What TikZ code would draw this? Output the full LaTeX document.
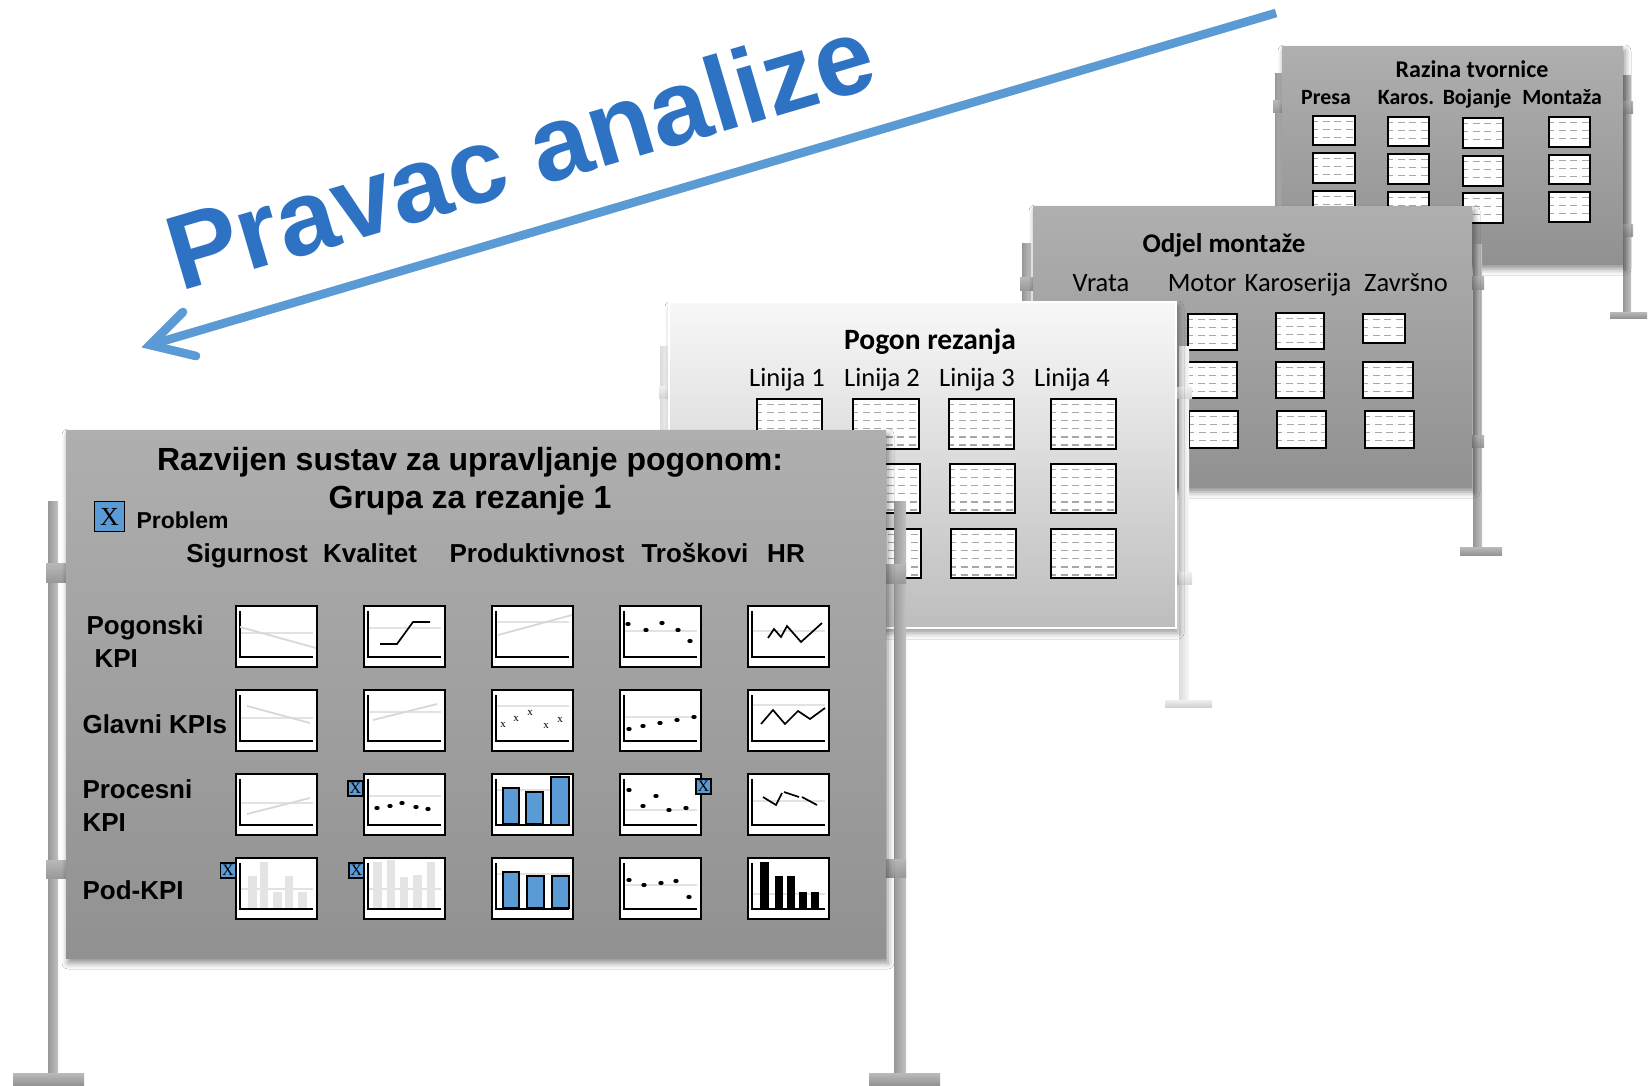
\documentclass[tikz,border=0pt]{standalone}
\usepackage{fontspec}
\setmainfont{Liberation Sans}
\newfontfamily\calfont{Carlito}
\newfontfamily\serfont{Liberation Serif}
\usetikzlibrary{shadows.blur,calc}

\definecolor{xblue}{HTML}{5B9BD5}
\definecolor{lightbar}{HTML}{E4E4E4}
\definecolor{refgray}{HTML}{E2E2E2}
\definecolor{dashgray}{HTML}{A8A8A8}
\definecolor{boardtop}{HTML}{AFAFAF}
\definecolor{boardbot}{HTML}{919191}
\definecolor{lboardtop}{HTML}{F8F8F8}
\definecolor{lboardbot}{HTML}{BDBDBD}
\definecolor{postA}{HTML}{979797}
\definecolor{postB}{HTML}{C2C2C2}
\definecolor{headblue}{HTML}{2E72C4}

% white card with thin dashed rules
\newcommand\slotbox[4]{%
  \fill[white] (#1,#2) rectangle (#3,#4);
  \begin{scope}
    \clip (#1,#2) rectangle (#3,#4);
    \foreach \yy in {5.5,13.6,...,60} {\draw[slotdash] (#1,#2+\yy) -- (#3,#2+\yy);}
  \end{scope}
  \draw[line width=1.7] (#1,#2) rectangle (#3,#4);}

% small KPI chart: frame, reference line, axes, contents
\newcommand\kpichart[4]{%
  \begin{scope}[shift={(#1,#2)}]
    \fill[white] (0,0) rectangle (81,61);
    \draw[refline] (4,#3) -- (77,#3);
    \draw[axisline] (4,5) -- (4,51) -- (77,51);
    #4
    \draw[line width=1.6] (0,0) rectangle (81,61);
  \end{scope}}

\newcommand\kdot[1]{\fill #1 ellipse [x radius=2.7, y radius=2.1];}

\begin{document}
\begin{tikzpicture}[x=1pt,y=-1pt,
  slotdash/.style={dashgray, line width=1.2, dash pattern=on 7pt off 4.5pt, dash phase=2pt},
  refline/.style={refgray, line width=1.6},
  greyline/.style={refgray!90!gray, line width=1.8},
  axisline/.style={line width=2.2, line join=miter},
  blackline/.style={line width=1.7, line join=miter},
  bluebar/.style={fill=xblue, draw=black, line width=1.3},
  board/.style={top color=boardtop, bottom color=boardbot,
    blur shadow={shadow xshift=2pt, shadow yshift=-5pt, shadow blur radius=6pt, shadow opacity=45}},
  lboard/.style={top color=lboardtop, bottom color=lboardbot, draw=white, line width=1.5,
    blur shadow={shadow xshift=2pt, shadow yshift=-5pt, shadow blur radius=6pt, shadow opacity=40}},
  post/.style={left color=postA, right color=postB},
  lpost/.style={left color=black!14, right color=black!3},
  knob/.style={top color=black!28, bottom color=black!40},
  lknob/.style={top color=black!6, bottom color=black!16},
  foot/.style={top color=black!27, bottom color=black!42},
  lfoot/.style={top color=black!6, bottom color=black!18},
  xmark/.style={fill=xblue, draw=black, line width=1.2, inner sep=0pt, minimum size=15pt,
    font=\serfont\fontsize{16}{16}\selectfont},
  xbig/.style={xmark, minimum size=30pt, font=\serfont\fontsize{26}{26}\selectfont},
  bfont/.style={font=\bfseries\fontsize{26}{30}\selectfont},
  titlefont/.style={font=\bfseries\fontsize{32}{36}\selectfont},
  probfont/.style={font=\bfseries\fontsize{23}{26}\selectfont},
  cbold/.style={font=\calfont\bfseries\fontsize{#1}{#1}\selectfont},
  creg/.style={font=\calfont\fontsize{#1}{#1}\selectfont},
  arrowline/.style={xblue, line width=8.5},
]
\fill[white] (0,0) rectangle (1650,1085);
\useasboundingbox (0,0) rectangle (1650,1085);

%% ---------------- factory level board ----------------
\shade[post] (1275,73) rectangle (1283,260);
\shade[knob] (1273,100) rectangle (1284,112);
\shade[post] (1623,75) rectangle (1631,313);
\shade[knob] (1622,101) rectangle (1633,113);
\shade[knob] (1622,224) rectangle (1633,236);
\shade[foot] (1610,312) rectangle (1647,318);
\shade[board] (1282,46) rectangle (1623,264);
\node[cbold=24, anchor=base] (razina) at (1472,77) {Razina tvornice};
\node[cbold=21.8, anchor=base] (presa) at (1326,104) {Presa};
\node[cbold=21.8, anchor=base] (karos) at (1406,104) {Karos.};
\node[cbold=21.8, anchor=base] (bojanje) at (1477,104) {Bojanje};
\node[cbold=21.8, anchor=base] (montaza) at (1562,104) {Montaža};
\slotbox{1313}{116}{1355}{145}\slotbox{1313}{153}{1355}{183}\slotbox{1313}{191}{1355}{220}
\slotbox{1388}{117}{1429}{146}\slotbox{1388}{154}{1429}{184}\slotbox{1388}{192}{1429}{221}
\slotbox{1463}{118}{1503}{148}\slotbox{1463}{156}{1503}{186}\slotbox{1463}{193}{1503}{223}
\slotbox{1549}{117}{1590}{147}\slotbox{1549}{155}{1590}{184}\slotbox{1549}{192}{1590}{222}

%% ---------------- assembly department board ----------------
\shade[post] (1022,243) rectangle (1031,480);
\shade[knob] (1020,277) rectangle (1033,290);
\shade[post] (1473,244) rectangle (1482,548);
\shade[knob] (1471,276) rectangle (1484,289);
\shade[knob] (1471,435) rectangle (1484,447);
\shade[foot] (1460,547) rectangle (1502,555);
\shade[board] (1033,206) rectangle (1472,487);
\node[cbold=27, anchor=base] (odjel) at (1224,252) {Odjel montaže};
\node[creg=26.5, anchor=base] (vrata) at (1101,291) {Vrata};
\node[creg=26.5, anchor=base] (motor) at (1202,291) {Motor};
\node[creg=26.5, anchor=base] (karoserija) at (1298,291) {Karoserija};
\node[creg=26.5, anchor=base] (zavrsno) at (1406,291) {Završno};
\slotbox{1188}{314}{1237}{350}\slotbox{1188}{362}{1237}{398}\slotbox{1189}{411}{1238}{448}
\slotbox{1276}{313}{1324}{349}\slotbox{1276}{362}{1324}{398}\slotbox{1277}{411}{1326}{448}
\slotbox{1363}{314}{1405}{343}\slotbox{1363}{362}{1413}{398}\slotbox{1365}{411}{1414}{448}

%% ---------------- cutting plant board ----------------
\shade[lpost] (660,346) rectangle (670,640);
\shade[lknob] (659,386) rectangle (672,398);
\shade[lpost] (1179,346) rectangle (1189,703);
\shade[lknob] (1176,387) rectangle (1192,398);
\shade[lknob] (1176,572) rectangle (1192,584);
\shade[lfoot] (1165,700) rectangle (1212,707);
\shade[lboard] (669,302) rectangle (1176,628);
\node[cbold=29.5, anchor=base] (pogon) at (930,349) {Pogon rezanja};
\node[creg=26.5, anchor=base] (linija1) at (787,386) {Linija 1};
\node[creg=26.5, anchor=base] (linija2) at (882,386) {Linija 2};
\node[creg=26.5, anchor=base] (linija3) at (977,386) {Linija 3};
\node[creg=26.5, anchor=base] (linija4) at (1072,386) {Linija 4};
\slotbox{757}{399}{822}{449}\slotbox{757}{464}{822}{513}\slotbox{757}{529}{822}{578}
\slotbox{853}{399}{919}{449}\slotbox{854}{464}{920}{513}\slotbox{855}{529}{921}{578}
\slotbox{949}{399}{1014}{449}\slotbox{950}{464}{1015}{513}\slotbox{951}{529}{1016}{578}
\slotbox{1051}{399}{1116}{449}\slotbox{1051}{464}{1116}{513}\slotbox{1051}{529}{1116}{578}

%% ---------------- plant management board ----------------
\shade[post] (48,501) rectangle (58,1073);
\shade[knob] (46,563) rectangle (66,582);
\shade[knob] (46,860) rectangle (66,878);
\shade[foot] (13,1073) rectangle (84,1085);
\shade[post] (894,501) rectangle (906,1073);
\shade[knob] (886,564) rectangle (906,583);
\shade[knob] (886,859) rectangle (906,877);
\shade[foot] (869,1073) rectangle (940,1085);
\shade[board] (66,430) rectangle (886,958);

\node[titlefont, anchor=base] (title1) at (470,470) {Razvijen sustav za upravljanje pogonom:};
\node[titlefont, anchor=base] (title2) at (470,508) {Grupa za rezanje 1};
\node[xbig] (xlegend) at (109.5,516.5) {X};
\node[probfont, anchor=base west] (problem) at (133,528) {Problem};

\node[bfont, anchor=base] (sigurnost) at (247,562) {Sigurnost};
\node[bfont, anchor=base] (kvalitet) at (370,562) {Kvalitet};
\node[bfont, anchor=base] (produkt) at (537,562) {Produktivnost};
\node[bfont, anchor=base] (troskovi) at (695,562) {Troškovi};
\node[bfont, anchor=base] (hr) at (786,562) {HR};

\node[bfont, anchor=base west] (pogonski) at (83,634) {Pogonski};
\node[bfont, anchor=base west] (kpia) at (91,667) {KPI};
\node[bfont, anchor=base west] (glavni) at (79,733) {Glavni KPIs};
\node[bfont, anchor=base west] (procesni) at (79,798) {Procesni};
\node[bfont, anchor=base west] (kpib) at (79,831) {KPI};
\node[bfont, anchor=base west] (podkpi) at (79,899) {Pod-KPI};

% row 1
\kpichart{236}{606}{27}{\draw[greyline] (4,21) -- (80,42);}
\kpichart{364}{606}{22}{\draw[blackline] (16,38) -- (33,38) -- (49,16) -- (66,16);}
\kpichart{492}{606}{16}{\draw[greyline] (6,29) -- (80,9);}
\kpichart{620}{606}{25}{\kdot{(8,18)}\kdot{(26,24)}\kdot{(42,17)}\kdot{(58,24)}\kdot{(70,35)}}
\kpichart{748}{606}{25}{\draw[blackline] (20,32) -- (26,23) -- (33,31) -- (39,20) -- (53,36) -- (74,17);}
% row 2
\kpichart{236}{690}{28}{\draw[greyline] (11,16) -- (74,33);}
\kpichart{364}{690}{22}{\draw[greyline] (9,30) -- (73,14);}
\kpichart{492}{690}{16}{\foreach \px/\py [count=\i] in {11/35,24/29,38/23,54/36,68/30}
    {\node[font=\serfont\fontsize{11}{11}\selectfont, inner sep=0pt] (xm\i) at (\px,\py) {x};}}
\kpichart{620}{690}{27}{\kdot{(9,39)}\kdot{(23,36)}\kdot{(40,33)}\kdot{(57,30)}\kdot{(74,27)}}
\kpichart{748}{690}{15}{\draw[blackline] (13,34) -- (25,20) -- (37,34) -- (50,21) -- (62,29) -- (77,18);}
% row 3
\kpichart{236}{774}{29}{\draw[greyline] (11,40) -- (74,24);}
\kpichart{364}{774}{22}{\kdot{(13,34)}\kdot{(26,32)}\kdot{(38,29)}\kdot{(52,33)}\kdot{(64,35)}}
\kpichart{492}{774}{16}{\draw[bluebar] (11,14) rectangle (27,50); \draw[bluebar] (34,18) rectangle (51,50);
    \draw[bluebar] (59,3) rectangle (77,51);}
\kpichart{620}{774}{36}{\kdot{(9,16)}\kdot{(23,32)}\kdot{(36,22)}\kdot{(49,36)}\kdot{(66,34)}}
\kpichart{748}{774}{27}{\draw[blackline] (15,23) -- (28,31) -- (34,19); \draw[blackline] (36,18) -- (51,23);
    \draw[blackline] (54,23) -- (69,31);}
% row 4
\kpichart{236}{858}{31}{\fill[lightbar] (12,18) rectangle (21,50); \fill[lightbar] (24,4) rectangle (32,50);
    \fill[lightbar] (37,34) rectangle (46,50); \fill[lightbar] (49,18) rectangle (57,50);
    \fill[lightbar] (62,34) rectangle (71,50);}
\kpichart{364}{858}{31}{\fill[lightbar] (9,4) rectangle (18,50); \fill[lightbar] (23,2) rectangle (31,50);
    \fill[lightbar] (36,19) rectangle (44,50); \fill[lightbar] (49,17) rectangle (58,50);
    \fill[lightbar] (63,4) rectangle (71,50);}
\kpichart{492}{858}{16}{\draw[bluebar] (11,14) rectangle (27,50); \draw[bluebar] (35,18) rectangle (52,50);
    \draw[bluebar] (60,18) rectangle (77,50);}
\kpichart{620}{858}{27}{\kdot{(9,22)}\kdot{(24,27)}\kdot{(41,25)}\kdot{(56,23)}\kdot{(69,39)}}
\kpichart{748}{858}{36}{\fill (12,4) rectangle (21,50); \fill (27,18) rectangle (35,50);
    \fill (39,18) rectangle (47,50); \fill (51,34) rectangle (59,50); \fill (63,34) rectangle (71,50);}

% problem flags
\node[xmark] (xq) at (355.5,788.5) {X};
\node[xmark] (xt) at (703.5,786.5) {X};
\node[xmark] (xs4) at (228,870.5) {X};
\node[xmark] (xq4) at (356.5,870.5) {X};

%% ---------------- direction of analysis ----------------
\coordinate (arrowtail) at (1276,13);
\coordinate (arrowtip) at (150,345);
\coordinate (barbup) at (183,312);
\coordinate (barbdown) at (196,356);
\begin{scope}[shift={(3,5)}]
  \draw[black!22, line width=8.5] (arrowtail) -- (arrowtip);
  \draw[black!22, line width=8.5, line cap=round, line join=miter] (barbup) -- (arrowtip) -- (barbdown);
\end{scope}
\draw[arrowline] (arrowtail) -- ($(arrowtip)!6pt!(arrowtail)$);
\draw[arrowline, line cap=round, line join=miter, miter limit=10] (barbup) -- (arrowtip) -- (barbdown);

\node[anchor=base, inner sep=0pt, rotate=16.4, text=headblue,
  font=\bfseries\fontsize{106}{110}\selectfont] (pravac) at (530.6,188.8) {Pravac analize};
\end{tikzpicture}
\end{document}
